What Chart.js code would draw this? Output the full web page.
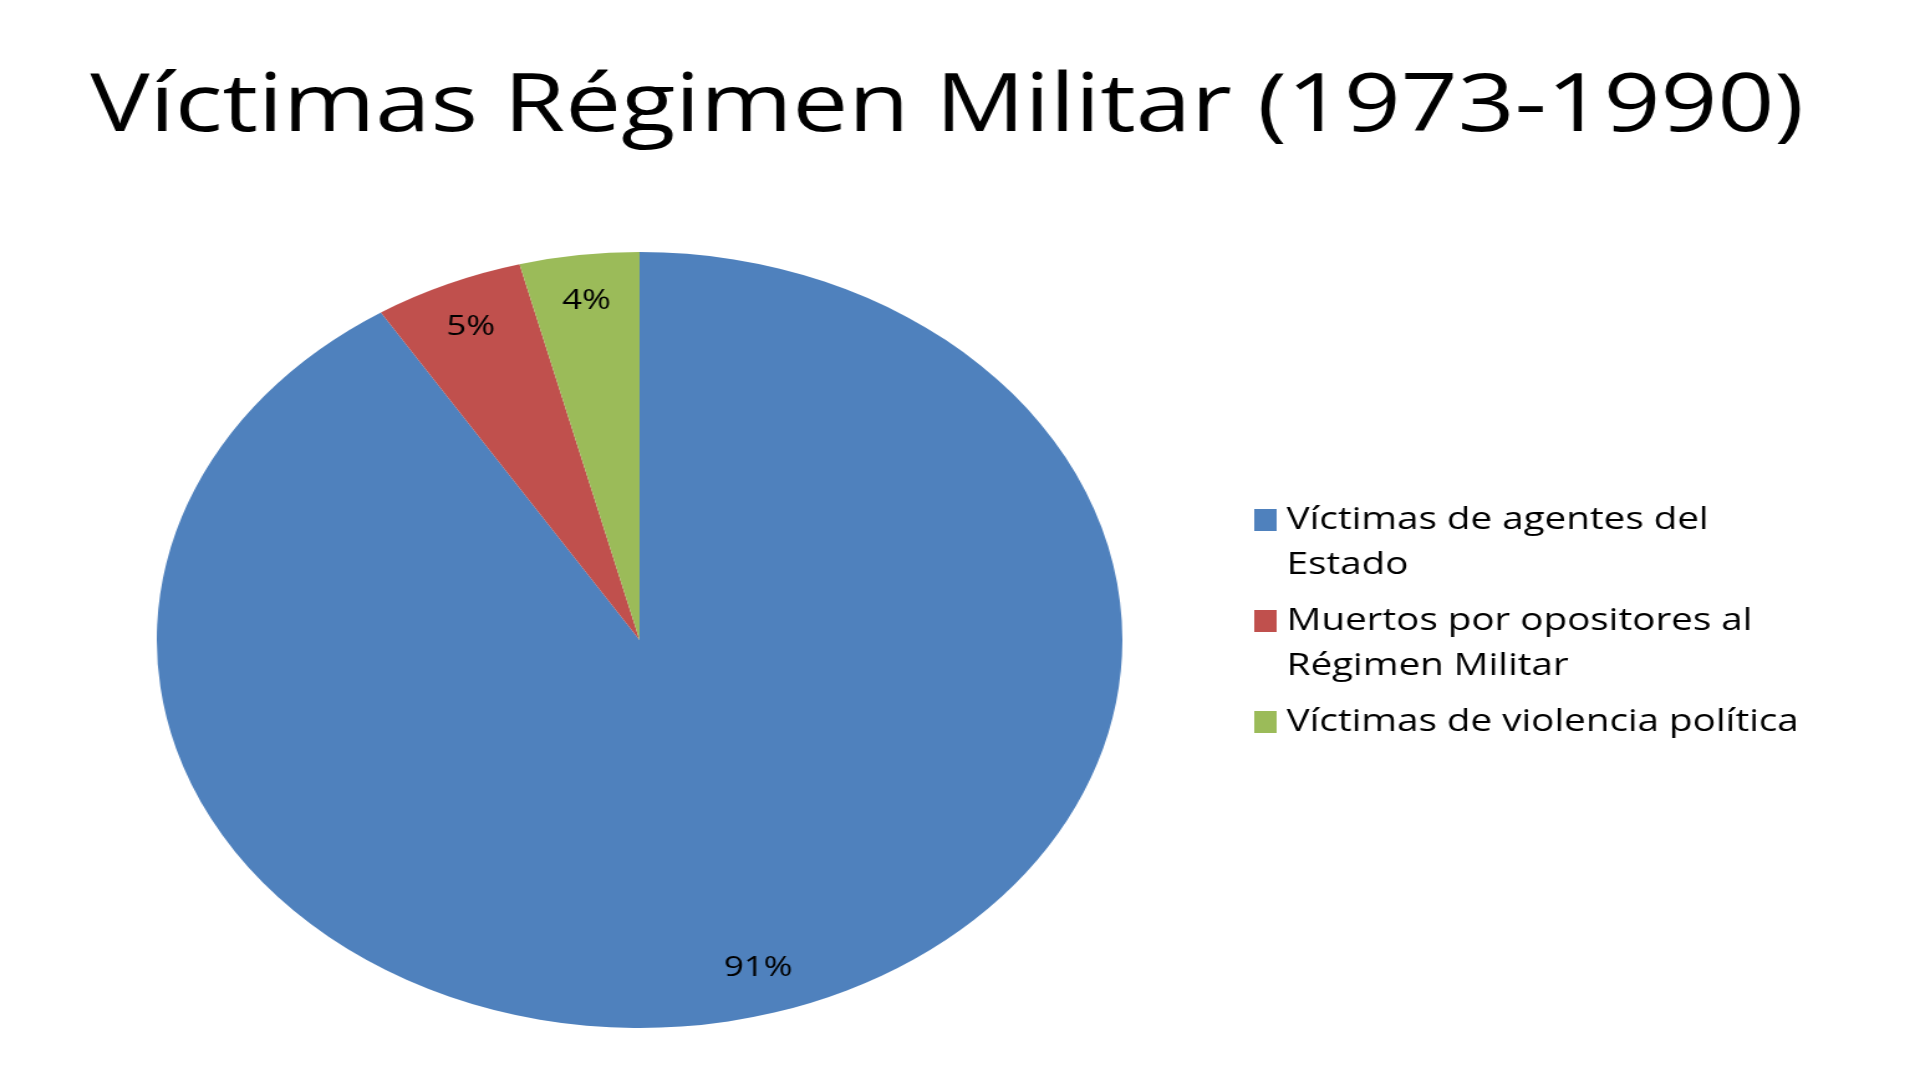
<!DOCTYPE html>
<html>
<head>
<meta charset="utf-8">
<script src="https://cdn.jsdelivr.net/npm/chart.js@4"></script>
<style>
  html, body { margin: 0; padding: 0; background: #fff; overflow: hidden; }
  #wrap { width: 1543px; height: 1080px; transform: scaleX(1.2443); transform-origin: 0 0; }
</style>
</head>
<body>
<div id="wrap"><canvas id="pieChart"></canvas></div>
<script>
// DATA
const titleText = "Víctimas Régimen Militar (1973-1990)";
const categories = ["Víctimas de agentes del Estado", "Muertos por opositores al Régimen Militar", "Víctimas de violencia política"];
const legendLines = [["Víctimas de agentes del", "Estado"], ["Muertos por opositores al", "Régimen Militar"], ["Víctimas de violencia política"]];
const values = [91, 5, 4];
const colors = ["#4F81BD", "#C0504D", "#9BBB59"];

// TITLE, LABELS AND LEGEND
const decorations = {
  id: "decorations",
  afterDraw(chart) {
    const ctx = chart.ctx;
    ctx.save();
    ctx.fillStyle = "#000";
    ctx.textAlign = "center";
    ctx.textBaseline = "middle";
    ctx.font = "80px 'Open Sans'";
    ctx.fillText(titleText, 761, 108);

    // percentage labels
    ctx.font = "28px 'Open Sans'";
    chart.getDatasetMeta(0).data.forEach((arc, i) => {
      const mid = (arc.startAngle + arc.endAngle) / 2;
      const r = arc.outerRadius * 0.88;
      ctx.fillText(values[i] + "%", arc.x + Math.cos(mid) * r, arc.y + Math.sin(mid) * r);
    });

    // legend
    ctx.textAlign = "left";
    ctx.font = "31px 'Open Sans'";
    let y = 520;
    legendLines.forEach((lines, i) => {
      ctx.fillStyle = colors[i];
      ctx.fillRect(1008, y - 11, 18, 22);
      ctx.fillStyle = "#000";
      lines.forEach((line, j) => ctx.fillText(line, 1034, y + j * 45));
      y += lines.length * 45 + 11;
    });
    ctx.restore();
  }
};

// CHART
new Chart(document.getElementById("pieChart"), {
  type: "pie",
  data: {
    labels: categories,
    datasets: [{
      data: values,
      backgroundColor: colors,
      borderWidth: 0
    }]
  },
  options: {
    responsive: true,
    maintainAspectRatio: false,
    animation: false,
    devicePixelRatio: 1,
    layout: { padding: { left: 126, right: 641, top: 252, bottom: 52 } },
    plugins: { legend: { display: false }, tooltip: { enabled: false } }
  },
  plugins: [decorations]
});
</script>
</body>
</html>
